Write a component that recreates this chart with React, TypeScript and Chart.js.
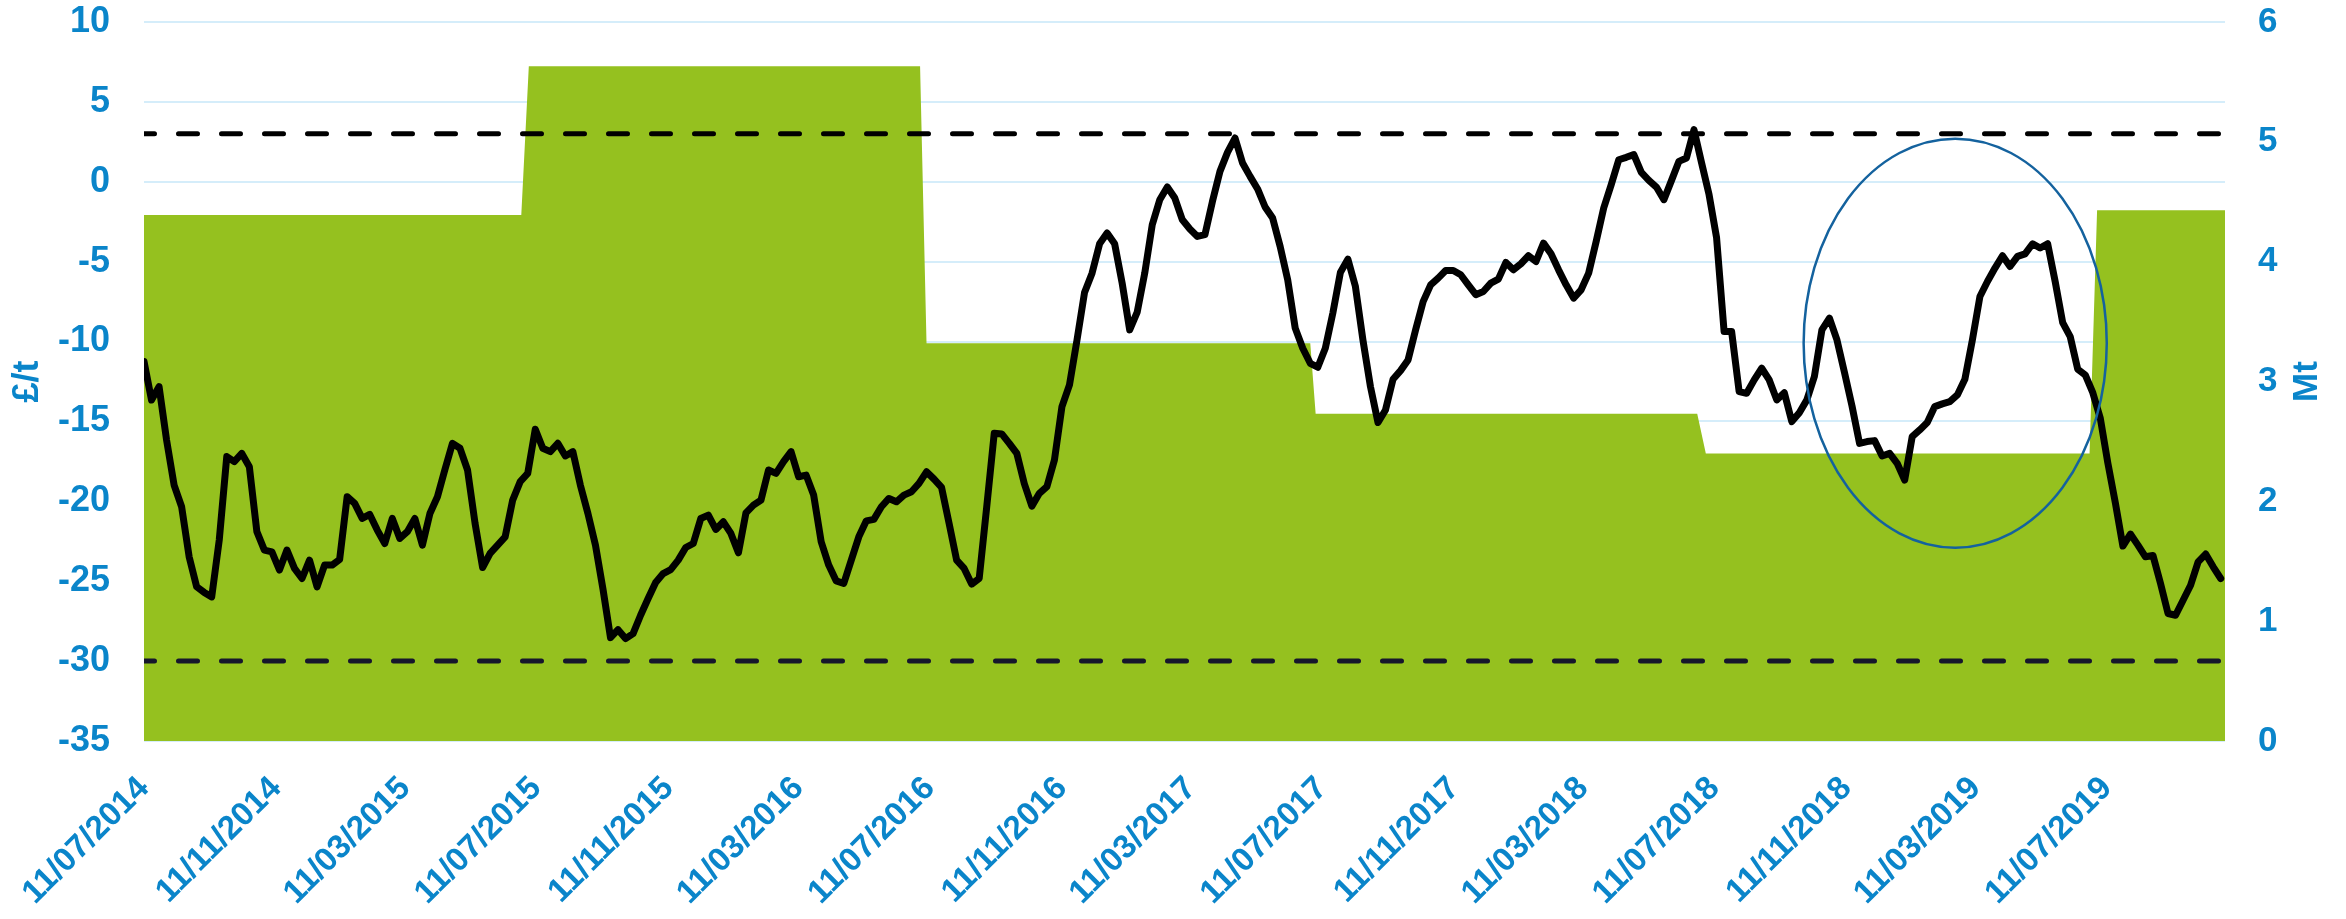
import React, { useEffect, useRef } from 'react';
import { Chart, registerables } from 'chart.js';

Chart.register(...registerables);

// ---------- data ----------
const START_DATE = '2014-07-11'; // first weekly observation
const END_DATE = '2019-10-29'; // end of the date axis

const tickLabels = [
  '11/07/2014', '11/11/2014', '11/03/2015', '11/07/2015', '11/11/2015', '11/03/2016',
  '11/07/2016', '11/11/2016', '11/03/2017', '11/07/2017', '11/11/2017', '11/03/2018',
  '11/07/2018', '11/11/2018', '11/03/2019', '11/07/2019',
];

// weekly price spread (£/t), one value per week from START_DATE
const priceWeekly = [
  -11.25, -13.66, -12.82, -16.16, -18.98, -20.34, -23.47, -25.35, -25.7, -25.98,
  -22.43, -17.2, -17.52, -17.0, -17.83, -21.9, -23.05, -23.16, -24.3, -23.05,
  -24.2, -24.83, -23.68, -25.35, -23.99, -23.99, -23.64, -19.71, -20.13, -21.07,
  -20.82, -21.8, -22.64, -21.07, -22.32, -21.9, -21.07, -22.74, -20.76, -19.71,
  -18.0, -16.37, -16.68, -18.04, -21.38, -24.14, -23.26, -22.74, -22.22, -19.92,
  -18.77, -18.25, -15.49, -16.68, -16.89, -16.37, -17.16, -16.89, -19.0, -20.76,
  -22.74, -25.5, -28.53, -28.03, -28.59, -28.28, -27.13, -26.08, -25.08, -24.52,
  -24.27, -23.68, -22.89, -22.64, -21.07, -20.86, -21.76, -21.28, -22.01, -23.22,
  -20.72, -20.24, -19.92, -18.04, -18.25, -17.52, -16.89, -18.46, -18.36, -19.61,
  -22.53, -23.99, -24.98, -25.14, -23.68, -22.22, -21.22, -21.13, -20.34, -19.82,
  -20.03, -19.61, -19.4, -18.88, -18.15, -18.61, -19.13, -21.38, -23.68, -24.2,
  -25.18, -24.83, -20.34, -15.74, -15.78, -16.37, -17.0, -18.9, -20.3, -19.5,
  -19.08, -17.41, -14.07, -12.71, -9.9, -6.93, -5.72, -3.88, -3.21, -3.88,
  -6.34, -9.27, -8.16, -5.72, -2.69, -1.12, -0.33, -1.02, -2.38, -2.96,
  -3.42, -3.31, -1.23, 0.65, 1.84, 2.74, 1.18, 0.34, -0.45, -1.58,
  -2.27, -4.05, -6.13, -9.16, -10.42, -11.36, -11.61, -10.42, -8.22, -5.68,
  -4.84, -6.55, -9.9, -12.82, -15.07, -14.28, -12.36, -11.82, -11.15, -9.27,
  -7.5, -6.45, -6.03, -5.55, -5.55, -5.82, -6.45, -7.07, -6.87, -6.34,
  -6.09, -5.05, -5.51, -5.13, -4.63, -4.99, -3.84, -4.51, -5.51, -6.45,
  -7.28, -6.76, -5.72, -3.73, -1.64, -0.18, 1.38, 1.53, 1.7, 0.59,
  0.09, -0.33, -1.12, 0.07, 1.28, 1.49, 3.26, 1.2, -0.8, -3.5,
  -9.37, -9.37, -13.13, -13.24, -12.4, -11.67, -12.4, -13.65, -13.2, -15.01,
  -14.45, -13.65, -12.19, -9.27, -8.54, -9.9, -11.94, -14.03, -16.37, -16.26,
  -16.2, -17.16, -17.0, -17.62, -18.67, -15.95, -15.53, -15.07, -14.07, -13.9,
  -13.76, -13.34, -12.36, -9.9, -7.18, -6.24, -5.4, -4.63, -5.3, -4.67,
  -4.51, -3.88, -4.15, -3.88, -6.24, -8.81, -9.69, -11.73, -12.09, -13.2,
  -14.8, -17.6, -20.1, -22.8, -22.05, -22.74, -23.47, -23.39, -25.14, -27.02,
  -27.13, -26.19, -25.25, -23.79, -23.3, -24.1, -24.83,
];

const upperThreshold = 3; // £/t
const lowerThreshold = -30; // £/t

// volume (Mt): [first date, last date, level]
const volumePeriods: [string, string, number][] = [
  ['2014-07-11', '2015-06-27', 4.39],
  ['2015-07-04', '2016-07-02', 5.63],
  ['2016-07-08', '2017-06-30', 3.32],
  ['2017-07-05', '2018-06-25', 2.73],
  ['2018-07-03', '2019-06-25', 2.4],
  ['2019-07-02', '2019-10-29', 4.43],
];

// highlighted region (date and £/t units)
const highlightCenterDate = '2019-02-20';
const highlightHalfWidthDays = 141;
const highlightCenterValue = -10.1;
const highlightHalfHeight = 12.8;

// ---------- helpers ----------
const BLUE = '#0A85CA';
const GREEN = '#95C11F';
const ARIAL = "'Liberation Sans', Arial, sans-serif";

const toUTC = (y: number, m: number, d: number) => Date.UTC(y, m - 1, d);
const isoDay = (iso: string) => {
  const [y, m, d] = iso.split('-').map(Number);
  const [y0, m0, d0] = START_DATE.split('-').map(Number);
  return (toUTC(y, m, d) - toUTC(y0, m0, d0)) / 86400000;
};
const labelDay = (lbl: string) => {
  const [d, m, y] = lbl.split('/').map(Number);
  return isoDay(`${y}-${m}-${d}`);
};

export default function App() {
  const canvasRef = useRef<HTMLCanvasElement | null>(null);

  useEffect(() => {
    document.body.style.margin = '0';
    const canvas = canvasRef.current;
    if (!canvas) return;

    const xMax = isoDay(END_DATE);
    const tickDays = tickLabels.map(labelDay);

    const pricePoints = priceWeekly.map((v, i) => ({ x: i * 7, y: v }));
    const volumePoints: { x: number; y: number }[] = [];
    volumePeriods.forEach(([a, b, v]) => {
      volumePoints.push({ x: isoDay(a), y: v });
      volumePoints.push({ x: isoDay(b), y: v });
    });

    const overlay = {
      id: 'overlay',
      afterDatasetsDraw(chart: any) {
        const { ctx, scales } = chart;
        const x = scales.x;
        const y = scales.y;
        const cd = isoDay(highlightCenterDate);
        const cx = x.getPixelForValue(cd);
        const rx = x.getPixelForValue(cd + highlightHalfWidthDays) - cx;
        const cy = y.getPixelForValue(highlightCenterValue);
        const ry = y.getPixelForValue(highlightCenterValue - highlightHalfHeight) - cy;
        ctx.save();
        ctx.beginPath();
        ctx.ellipse(cx, cy, rx, ry, 0, 0, Math.PI * 2);
        ctx.strokeStyle = '#14629E';
        ctx.lineWidth = 2.5;
        ctx.stroke();
        ctx.restore();
      },
      afterDraw(chart: any) {
        const { ctx, chartArea, scales } = chart;
        const y1 = scales.y1;
        ctx.save();
        ctx.translate(y1.left + 82, (chartArea.top + chartArea.bottom) / 2);
        ctx.rotate(-Math.PI / 2);
        ctx.fillStyle = BLUE;
        ctx.font = `bold 35px ${ARIAL}`;
        ctx.textAlign = 'center';
        ctx.textBaseline = 'middle';
        ctx.fillText('Mt', 0, 0);
        ctx.restore();
      },
    };

    const chart = new Chart(canvas, {
      type: 'line',
      data: {
        datasets: [
          {
            label: 'Spread',
            data: pricePoints,
            yAxisID: 'y',
            borderColor: '#000000',
            borderWidth: 7,
            pointRadius: 0,
            tension: 0,
            borderJoinStyle: 'round',
            borderCapStyle: 'round',
            fill: false,
            order: 1,
          },
          {
            label: 'Upper',
            data: [
              { x: 0, y: upperThreshold },
              { x: xMax, y: upperThreshold },
            ],
            yAxisID: 'y',
            borderColor: '#000000',
            borderWidth: 5,
            borderDash: [19, 24],
            borderDashOffset: 8.5,
            borderCapStyle: 'round',
            pointRadius: 0,
            fill: false,
            order: 2,
          },
          {
            label: 'Lower',
            data: [
              { x: 0, y: lowerThreshold },
              { x: xMax, y: lowerThreshold },
            ],
            yAxisID: 'y',
            borderColor: '#16162C',
            borderWidth: 5,
            borderDash: [19, 24],
            borderDashOffset: 8.5,
            borderCapStyle: 'round',
            pointRadius: 0,
            fill: false,
            order: 2,
          },
          {
            label: 'Volume',
            data: volumePoints,
            yAxisID: 'y1',
            borderWidth: 0,
            borderColor: GREEN,
            backgroundColor: GREEN,
            pointRadius: 0,
            tension: 0,
            fill: 'origin',
            order: 3,
          },
        ],
      },
      options: {
        animation: false,
        responsive: false,
        devicePixelRatio: 1,
        parsing: false,
        layout: { padding: { top: 22, left: 0, right: 0, bottom: 0 } },
        plugins: {
          legend: { display: false },
          tooltip: { enabled: false },
        },
        scales: {
          x: {
            type: 'linear',
            min: 0,
            max: xMax,
            afterBuildTicks: (scale: any) => {
              scale.ticks = tickDays.map((v) => ({ value: v }));
            },
            afterFit: (scale: any) => {
              scale.height = 178;
              scale.paddingLeft = 0;
              scale.paddingRight = 0;
            },
            ticks: {
              autoSkip: false,
              minRotation: 45,
              maxRotation: 45,
              padding: 28,
              color: BLUE,
              font: { family: ARIAL, size: 33, weight: 'bold' },
              callback: (_v: any, i: number) => tickLabels[i] ?? '',
            },
            grid: { display: false, drawTicks: false },
            border: { display: false },
          },
          y: {
            position: 'left',
            min: -35,
            max: 10,
            afterFit: (scale: any) => {
              scale.width = 144;
              scale.paddingTop = 0;
              scale.paddingBottom = 0;
            },
            ticks: {
              stepSize: 5,
              padding: 34,
              color: BLUE,
              font: { family: ARIAL, size: 36, weight: 'bold' },
            },
            grid: { color: '#D5EDFA', lineWidth: 2, drawTicks: false },
            border: { display: false },
            title: {
              display: true,
              text: '£/t',
              color: BLUE,
              font: { family: ARIAL, size: 36, weight: 'bold' },
              padding: { top: 6, bottom: 0 },
            },
          },
          y1: {
            position: 'right',
            min: 0,
            max: 6,
            afterFit: (scale: any) => {
              scale.width = 121;
              scale.paddingTop = 0;
              scale.paddingBottom = 0;
            },
            ticks: {
              stepSize: 1,
              padding: 33,
              color: BLUE,
              font: { family: ARIAL, size: 35, weight: 'bold' },
            },
            grid: { display: false, drawTicks: false },
            border: { display: false },
          },
        },
      } as any,
      plugins: [overlay],
    });

    return () => {
      chart.destroy();
    };
  }, []);

  return (
    <div style={{ width: 2346, height: 919, background: '#ffffff' }}>
      <canvas ref={canvasRef} width={2346} height={919} style={{ display: 'block' }} />
    </div>
  );
}
